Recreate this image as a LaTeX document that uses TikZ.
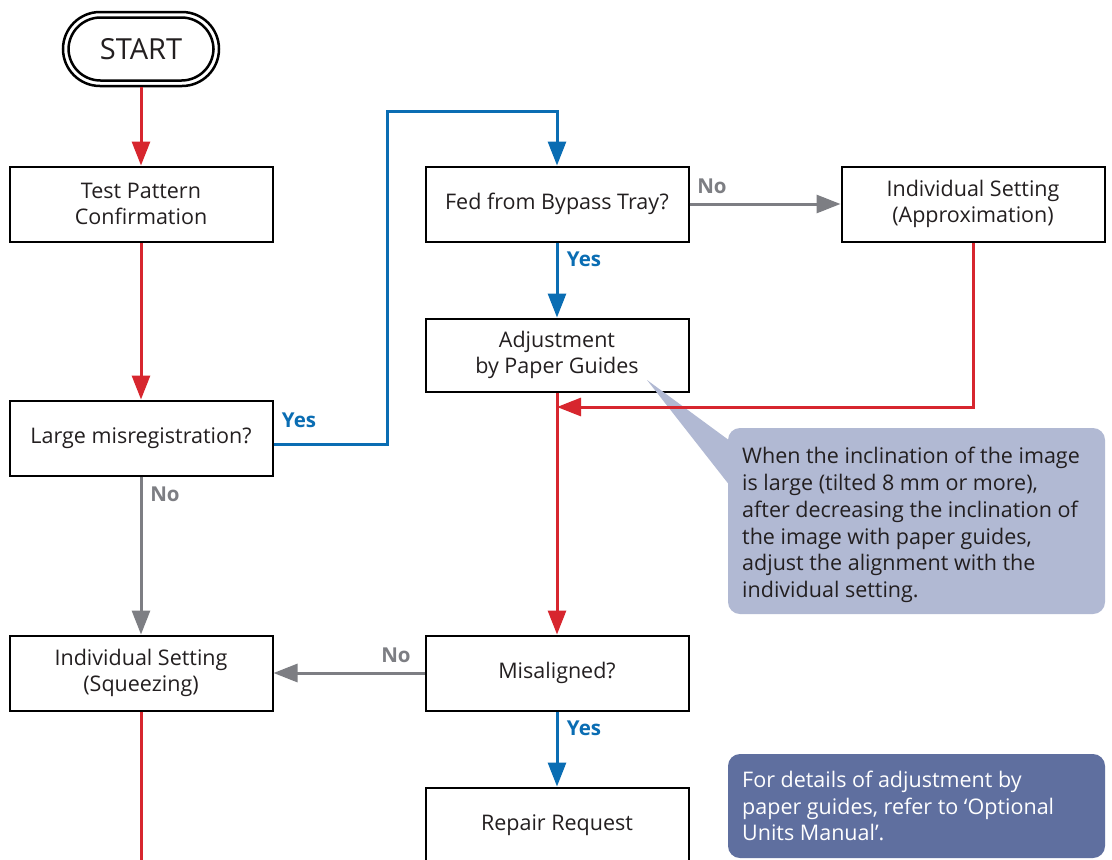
\documentclass[tikz,border=0pt]{standalone}
\usepackage{fontspec}
\setmainfont{Open Sans}
\usetikzlibrary{arrows.meta,positioning}
\definecolor{fred}{HTML}{D7262E}
\definecolor{fblue}{HTML}{0A6DB3}
\definecolor{fgray}{HTML}{7D7E83}
\definecolor{callA}{HTML}{B1B9D3}
\definecolor{callB}{HTML}{5F6F9F}
\definecolor{ctext}{HTML}{231F20}
\tikzset{
  box/.style={draw=black, line width=2pt, minimum width=263pt, minimum height=75pt, align=center, inner sep=0pt,
    font=\fontsize{21.5}{26}\selectfont, text=ctext},
  conn/.style={line width=3pt, -{Triangle[length=24pt,width=18pt]}},
  redarrow/.style={conn, draw=fred},
  bluearrow/.style={conn, draw=fblue},
  grayarrow/.style={conn, draw=fgray},
  redline/.style={line width=3pt, draw=fred},
  yeslab/.style={text=fblue, font=\fontsize{20.5}{22}\selectfont\bfseries, inner sep=0pt},
  nolab/.style={text=fgray, font=\fontsize{20.5}{22}\selectfont\bfseries, inner sep=0pt},
  calltext/.style={align=left, inner sep=0pt, font=\fontsize{21.5}{26.7}\selectfont},
}
\begin{document}
\begin{tikzpicture}[x=1pt,y=-1pt]
\useasboundingbox (0,0) rectangle (1112,860);
\fill[white] (0,0) rectangle (1112,860);
\clip (0,0) rectangle (1112,860);

% START terminal (double border)
\node[draw=black, line width=2.5pt, rounded corners=37pt, minimum width=156pt, minimum height=74pt, inner sep=0pt] (start) at (141,49) {};
\node[draw=black, line width=2.5pt, rounded corners=32pt, minimum width=145pt, minimum height=63pt, inner sep=0pt,
  font=\fontsize{29}{32}\selectfont, text=ctext] (startin) at (141,49) {START};

% process boxes
\node[box] (test) at (141,204) {Test Pattern\\Confirmation};
\node[box] (large) at (141,438) {Large misregistration?};
\node[box] (squeeze) at (141,673) {Individual Setting\\(Squeezing)};
\node[box] (fed) at (557,204) {Fed from Bypass Tray?};
\node[box] (approx) at (973,204) {Individual Setting\\(Approximation)};
\node[box, minimum height=73pt] (adjust) at (557,355) {Adjustment\\by Paper Guides};
\node[box] (misal) at (557,673) {Misaligned?};
\node[box] (repair) at (557,825) {Repair Request};

% callout 1
\coordinate (tip) at (647,380);
\fill[callA] (tip) -- (745,452) -- (745,505) -- cycle;
\fill[callA, rounded corners=12pt] (728,428) rectangle (1105,614);
\node[calltext, text=ctext, anchor=west] (note1) at (742,525)
  {When the inclination of the image\\is large (tilted 8 mm or more),\\after decreasing the inclination of\\the image with paper guides,\\adjust the alignment with the\\individual setting.};

% callout 2
\fill[callB, rounded corners=12pt] (728,754) rectangle (1105,858);
\node[calltext, text=white, anchor=west] (note2) at (742,806)
  {For details of adjustment by\\paper guides, refer to ‘Optional\\Units Manual’.};

% connectors
\draw[redarrow] (start) -- (test);
\draw[redarrow] (test) -- (large);
\coordinate (loopA) at (387,111);
\draw[bluearrow] ([yshift=-6pt]large.east) -| (loopA) -| (fed.north);
\draw[grayarrow] (large) -- (squeeze);
\draw[grayarrow] (fed) -- (approx);
\draw[bluearrow] (fed) -- (adjust);
\coordinate (join) at (557,407);
\draw[redarrow] (approx.south) |- (join);
\draw[redarrow] (adjust) -- (misal);
\draw[grayarrow] (misal) -- (squeeze);
\draw[bluearrow] (misal) -- (repair);
\coordinate (bottom) at (141,875);
\draw[redline] (squeeze.south) -- (bottom);

% labels
\node[yeslab] at (299,420) {Yes};
\node[nolab] at (165,494) {No};
\node[nolab] at (712,186) {No};
\node[yeslab] at (584,259) {Yes};
\node[nolab] at (396,655) {No};
\node[yeslab] at (584,728) {Yes};
\end{tikzpicture}
\end{document}
